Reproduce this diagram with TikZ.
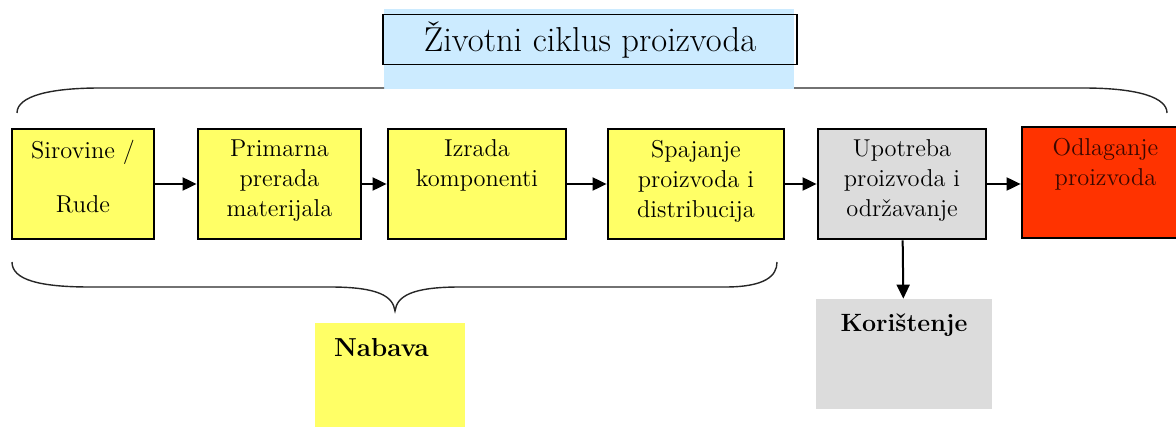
\documentclass[tikz,border=0pt]{standalone}
\usepackage{tikz}
\usetikzlibrary{arrows.meta,positioning}
\definecolor{stageyellow}{HTML}{FFFF66}
\definecolor{stagegray}{HTML}{DCDCDC}
\definecolor{stagered}{HTML}{FF3300}
\definecolor{titleblue}{HTML}{CCEBFF}
\definecolor{darktext}{HTML}{3A0800}

\begin{document}
\begin{tikzpicture}[x=0.5pt, y=-0.5pt,
    stage/.style={draw, line width=1.4pt, minimum height=55pt, inner sep=0pt},
    stagetext/.style={anchor=north, align=center, inner sep=2pt, font=\fontsize{12.2}{15}\selectfont},
    notebox/.style={inner sep=0pt},
    notetext/.style={anchor=base, font=\fontsize{13}{15}\selectfont\bfseries},
    flow/.style={-{Triangle[length=7pt,width=6.5pt]}, line width=1pt},
    brace/.style={line width=0.7pt, black!85}]
    \useasboundingbox (0,0) rectangle (1176,427);
    % title
    \fill[titleblue] (384,9) rectangle (794,89);
    \node[draw, line width=0.8pt, minimum width=207pt, minimum height=23.5pt, font=\fontsize{17.3}{20}\selectfont] (title) at (590,39.5) {Životni ciklus proizvoda};
    % top brace
    \draw[brace] (17,113) .. controls (17,96) and (50,88) .. (100,88) -- (384,88);
    \draw[brace] (794,88) -- (1083,88) .. controls (1140,88) and (1167,98) .. (1167,113);
    % stages
    \node[stage, fill=stageyellow, minimum width=71pt] (s1) at (83,184) {};
    \node[stage, fill=stageyellow, minimum width=81.5pt] (s2) at (279.5,184) {};
    \node[stage, fill=stageyellow, minimum width=89pt] (s3) at (477,184) {};
    \node[stage, fill=stageyellow, minimum width=88pt] (s4) at (696,184) {};
    \node[stage, fill=stagegray, minimum width=84pt] (s5) at (902,184) {};
    \node[stage, fill=stagered, minimum width=83.5pt, minimum height=55.5pt] (s6) at (1105.5,182.5) {};
    \node[stagetext] (t1) at ([yshift=-4pt]s1.north) {Sirovine /\\[12pt]Rude};
    \node[stagetext] (t2) at ([yshift=-4pt]s2.north) {Primarna\\prerada\\materijala};
    \node[stagetext] (t3) at ([yshift=-4pt]s3.north) {Izrada\\komponenti};
    \node[stagetext] (t4) at ([yshift=-4pt]s4.north) {Spajanje\\proizvoda i\\distribucija};
    \node[stagetext] (t5) at ([yshift=-4pt]s5.north) {Upotreba\\proizvoda i\\održavanje};
    \node[stagetext, text=darktext] (t6) at ([yshift=-4pt]s6.north) {Odlaganje\\proizvoda};
    \draw[flow] (s1) -- (s2);
    \draw[flow] (s2) -- (s3);
    \draw[flow] (s3) -- (s4);
    \draw[flow] (s4) -- (s5);
    \draw[flow] (s5.east) -- (s6.west |- s5.east);
    % bottom brace
    \draw[brace] (12,262) .. controls (12,280) and (40,287) .. (90,287) -- (330,287)
        .. controls (378,287) and (393,296) .. (395,311)
        .. controls (397,296) and (412,287) .. (460,287) -- (725,287)
        .. controls (765,287) and (777,276) .. (777,262);
    % notes
    \node[notebox, fill=stageyellow, minimum width=75pt, minimum height=55pt] (nabava) at (390,378) {};
    \node[notetext] (nabavatxt) at (381.5,356) {Nabava};
    \node[notebox, fill=stagegray, minimum width=88pt, minimum height=55pt] (kor) at (904,354) {};
    \node[notetext, font=\fontsize{12.5}{15}\selectfont\bfseries] (kortxt) at (904,331) {Korištenje};
    \draw[flow] (s5) -- (kor);
\end{tikzpicture}
\end{document}
